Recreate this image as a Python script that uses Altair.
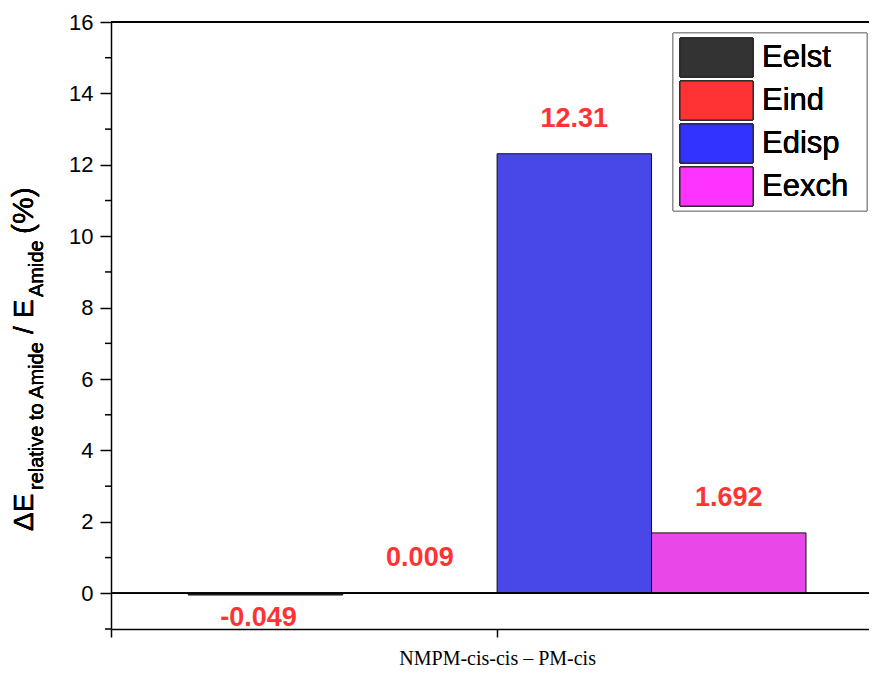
import altair as alt
import pandas as pd

# ---- data ----
series = ["Eelst", "Eind", "Edisp", "Eexch"]
values = [-0.049, 0.009, 12.31, 1.692]
labels = ["-0.049", "0.009", "12.31", "1.692"]
positions = [-2, -1, 0, 1]          # left edge of each bar, in bar-width units
bar_colors = ["#333333", "#FF3333", "#4848E8", "#E848E8"]
legend_colors = ["#333333", "#FF3333", "#3333FF", "#FF33FF"]
category = "NMPM-cis-cis \u2013 PM-cis"
major_ticks = list(range(0, 17, 2))
minor_ticks = list(range(-1, 17, 2))

df = pd.DataFrame({
    "series": series,
    "value": values,
    "label": labels,
    "x0": positions,
    "x1": [p + 1 for p in positions],
    "xc": [p + 0.5 for p in positions],
    "color": bar_colors,
})
minor_df = pd.DataFrame({"v": minor_ticks})

W, H = 758, 607
xscale = alt.Scale(domain=[-2.5, 2.408], nice=False, zero=False)
yscale = alt.Scale(domain=[-1, 16], nice=False, zero=False)

base = alt.Chart(df)

bars = base.mark_bar(stroke="#111111", strokeWidth=1, opacity=1).encode(
    x=alt.X("x0:Q", scale=xscale,
            axis=alt.Axis(values=[-2.5, 0], title=None,
                          labelExpr=f"datum.value == 0 ? '{category}' : ''",
                          labelFont="Liberation Serif", labelFontSize=20,
                          labelColor="black", labelPadding=11, labelLimit=0,
                          tickSize=8, tickWidth=1.5, tickColor="black",
                          domainColor="black", domainWidth=1.5, grid=False)),
    x2="x1:Q",
    y=alt.Y("value:Q", scale=yscale,
            axis=alt.Axis(values=major_ticks, title=None,
                          labelFont="Liberation Sans", labelFontSize=22,
                          labelColor="black", labelPadding=7,
                          tickSize=11, tickWidth=1.5, tickColor="black",
                          domainColor="black", domainWidth=1.5, grid=False)),
    y2=alt.datum(0),
    fill=alt.Fill("color:N", scale=None),
)

minor = alt.Chart(minor_df).mark_rule(color="black", strokeWidth=1.5).encode(
    y=alt.Y("v:Q", scale=yscale), x=alt.value(-6), x2=alt.value(0))

pos_text = base.transform_filter("datum.value >= 0").mark_text(
    font="Liberation Sans", fontSize=27, fontWeight="bold", color="#FF3333",
    baseline="middle", align="center", dy=-35
).encode(x=alt.X("xc:Q", scale=xscale), y=alt.Y("value:Q", scale=yscale), text="label:N")

neg_text = base.transform_filter("datum.value < 0").mark_text(
    font="Liberation Sans", fontSize=27, fontWeight="bold", color="#FF3333",
    baseline="middle", align="center", dy=23, dx=-7
).encode(x=alt.X("xc:Q", scale=xscale), y=alt.Y("value:Q", scale=yscale), text="label:N")

zero_line = base.mark_rule(color="black", strokeWidth=1.5).encode(
    y=alt.datum(0), x=alt.value(0), x2=alt.value(W))
top_line = base.mark_rule(color="black", strokeWidth=1.5).encode(
    y=alt.datum(16), x=alt.value(0), x2=alt.value(W))

layers = [bars, minor, zero_line, top_line, pos_text, neg_text]

# ---- legend (drawn manually) ----
legend_box = base.mark_rect(fill="white", stroke="#888888", strokeWidth=1).encode(
    x=alt.value(562), x2=alt.value(756), y=alt.value(11), y2=alt.value(189))
layers.append(legend_box)
row_h = 43
for i, (name, col) in enumerate(zip(series, legend_colors)):
    y0 = 16 + i * row_h
    layers.append(base.mark_rect(fill=col, stroke="#222222", strokeWidth=1).encode(
        x=alt.value(569), x2=alt.value(642), y=alt.value(y0), y2=alt.value(y0 + 39)))
    layers.append(base.mark_text(text=name, font="Liberation Sans", fontSize=31,
                                 align="left", baseline="middle", color="black").encode(
        x=alt.value(651), y=alt.value(y0 + 20)))

# ---- y-axis title with subscripts ----
title_parts = [
    ("\u0394E", 28, -78, 509),
    ("relative to Amide", 20, -68, 468),
    ("/", 28, -78, 312),
    ("E", 28, -78, 296),
    ("Amide", 20, -68, 275),
    ("(%)", 30, -78, 212),
]
for txt, size, px, py in title_parts:
    layers.append(base.mark_text(text=txt, font="Liberation Sans", fontSize=size,
                                 angle=270, align="left", baseline="alphabetic",
                                 color="black").encode(
        x=alt.value(px), y=alt.value(py)))

chart = alt.layer(*layers).properties(
    width=W, height=H,
    autosize=alt.AutoSizeParams(type="none"),
    padding={"left": 103, "top": 14, "right": 0, "bottom": 40},
    background="white",
).configure_view(stroke=None)

chart.save("out.html", embed_options={"renderer": "svg", "actions": False})
